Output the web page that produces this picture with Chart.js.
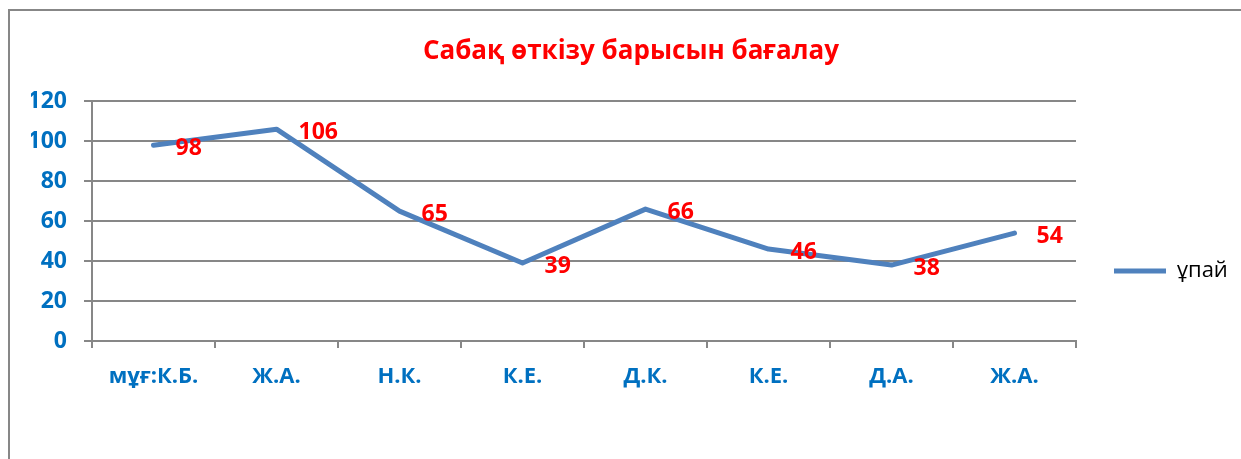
<!DOCTYPE html>
<html>
<head>
<meta charset="utf-8">
<script src="https://cdn.jsdelivr.net/npm/chart.js@4/dist/chart.umd.min.js"></script>
<style>
  html, body { margin: 0; padding: 0; width: 1241px; height: 459px; overflow: hidden; background: #fff; }
  #frame { position: absolute; left: 8px; top: 9px; width: 1300px; height: 600px; border: 2px solid #878787; }
  #wrap { position: absolute; left: 0; top: 0; width: 1241px; height: 542px; }
</style>
</head>
<body>
<div id="frame"></div>
<div id="wrap"><canvas id="c" width="1241" height="542"></canvas></div>
<script>
const chartTitle = 'Сабақ өткізу барысын бағалау';
const categories = ['мұғ:К.Б.', 'Ж.А.', 'Н.К.', 'К.Е.', 'Д.К.', 'К.Е.', 'Д.А.', 'Ж.А.'];
const seriesName = 'ұпай';
const seriesValues = [98, 106, 65, 39, 66, 46, 38, 54];
const yTicks = [0, 20, 40, 60, 80, 100, 120];

const FONT = "'Open Sans', 'DejaVu Sans', sans-serif";
const BLUE_TXT = '#0070C0';
const LINE_BLUE = '#4F81BD';
const GRID = '#878787';

const dataLabels = {
  id: 'dataLabels',
  afterDatasetsDraw(chart) {
    const ctx = chart.ctx;
    const meta = chart.getDatasetMeta(0);
    const vals = chart.data.datasets[0].data;
    ctx.save();
    ctx.fillStyle = '#FF0000';
    ctx.font = 'bold 23px ' + FONT;
    ctx.textAlign = 'left';
    ctx.textBaseline = 'middle';
    meta.data.forEach((pt, i) => {
      ctx.fillText(String(vals[i]), pt.x + 22, pt.y + 3);
    });
    ctx.restore();
  }
};

new Chart(document.getElementById('c'), {
  type: 'line',
  data: {
    labels: categories,
    datasets: [{
      label: seriesName,
      data: seriesValues,
      borderColor: LINE_BLUE,
      backgroundColor: LINE_BLUE,
      borderWidth: 5,
      pointRadius: 0,
      tension: 0,
      borderCapStyle: 'round',
      borderJoinStyle: 'round'
    }]
  },
  options: {
    responsive: false,
    animation: false,
    layout: { padding: { left: 31, right: 10, top: 0, bottom: 0 } },
    plugins: {
      legend: {
        display: true,
        position: 'right',
        align: 'center',
        maxWidth: 155,
        labels: {
          usePointStyle: true,
          pointStyle: 'line',
          pointStyleWidth: 52,
          padding: 38,
          color: '#000',
          font: { family: FONT, size: 22 }
        }
      },
      tooltip: { enabled: false },
      title: {
        display: true,
        text: chartTitle,
        color: '#FF0000',
        font: { family: FONT, size: 26, weight: 'bold' },
        padding: { top: 36, bottom: 34 }
      }
    },
    scales: {
      x: {
        offset: true,
        afterFit(scale) { scale.height = 201; },
        grid: { offset: true, drawOnChartArea: false, drawTicks: true, tickLength: 7, color: GRID, lineWidth: 2 },
        border: { display: true, color: GRID, width: 2 },
        ticks: { color: BLUE_TXT, font: { family: FONT, size: 22, weight: 'bold' }, padding: 16, maxRotation: 0, autoSkip: false }
      },
      y: {
        min: 0,
        max: 120,
        afterFit(scale) { scale.width = 61; },
        afterBuildTicks(scale) { scale.ticks = yTicks.map(v => ({ value: v })); },
        grid: { color: GRID, lineWidth: 2, tickLength: 8 },
        border: { display: true, color: GRID, width: 2 },
        ticks: { color: BLUE_TXT, font: { family: FONT, size: 23, weight: 'bold' }, padding: 17 }
      }
    }
  },
  plugins: [dataLabels]
});
</script>
</body>
</html>
